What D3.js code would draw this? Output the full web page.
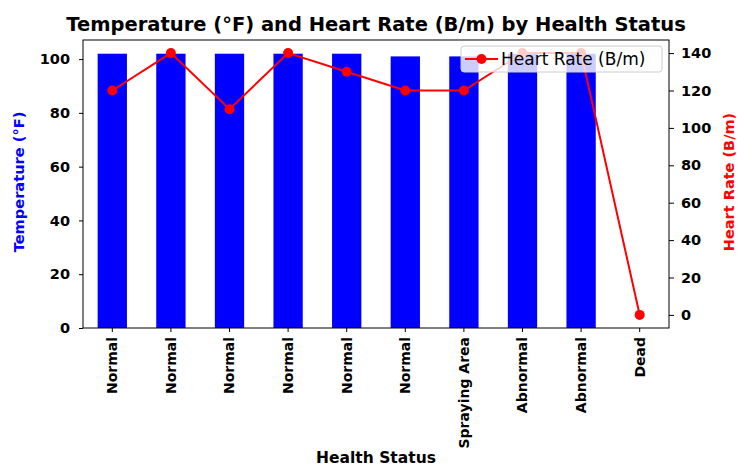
<!DOCTYPE html>
<html>
<head>
<meta charset="utf-8">
<script src="https://cdn.jsdelivr.net/npm/d3@7"></script>
<style>
  body { margin: 0; background: #fff; }
  text { font-family: "DejaVu Sans", sans-serif; }
</style>
</head>
<body>
<div id="chart"></div>
<script>
const statuses = ["Normal", "Normal", "Normal", "Normal", "Normal", "Normal", "Spraying Area", "Abnormal", "Abnormal", "Dead"];
const temperatures = [102, 102, 102, 102, 102, 101, 101, 102, 102, 0];
const heartRates = [120, 140, 110, 140, 130, 120, 120, 140, 140, 0];
const tempTicks = [0, 20, 40, 60, 80, 100];
const hrTicks = [0, 20, 40, 60, 80, 100, 120, 140];

const width = 737;
const height = 466;
const margin = { top: 40, right: 68, bottom: 138, left: 83 };
const plotW = width - margin.left - margin.right;
const plotH = height - margin.top - margin.bottom;

const svg = d3
  .select("#chart")
  .append("svg")
  .attr("width", width)
  .attr("height", height);

const idx = statuses.map((d, i) => i);

const x = d3
  .scaleBand()
  .domain(idx)
  .range([margin.left, margin.left + plotW])
  .paddingInner(0.5)
  .paddingOuter(0.25);

const yTemp = d3
  .scaleLinear()
  .domain([0, d3.max(temperatures) * 1.05])
  .range([margin.top + plotH, margin.top]);

const hrMax = d3.max(heartRates);
const yHr = d3
  .scaleLinear()
  .domain([-hrMax * 0.05, hrMax * 1.05])
  .range([margin.top + plotH, margin.top]);

// bars
svg
  .selectAll("rect.bar")
  .data(temperatures)
  .enter()
  .append("rect")
  .attr("class", "bar")
  .attr("x", (d, i) => x(i))
  .attr("width", x.bandwidth())
  .attr("y", (d) => yTemp(d))
  .attr("height", (d) => yTemp(0) - yTemp(d))
  .attr("fill", "#0000ff");

// heart rate line
const cx = (i) => x(i) + x.bandwidth() / 2;
const line = d3
  .line()
  .x((d, i) => cx(i))
  .y((d) => yHr(d));

svg
  .append("path")
  .datum(heartRates)
  .attr("d", line)
  .attr("fill", "none")
  .attr("stroke", "#ff0000")
  .attr("stroke-width", 2);

svg
  .selectAll("circle.pt")
  .data(heartRates)
  .enter()
  .append("circle")
  .attr("class", "pt")
  .attr("cx", (d, i) => cx(i))
  .attr("cy", (d) => yHr(d))
  .attr("r", 5)
  .attr("fill", "#ff0000");

// axes
const styleAxis = (size) => (g) => {
  g.select(".domain").remove();
  g.selectAll(".tick line").attr("stroke", "#000").attr("stroke-width", 1);
  g.selectAll(".tick text")
    .attr("fill", "#000")
    .style("font-size", size)
    .style("font-weight", "bold")
    .style("font-family", "DejaVu Sans");
};

svg
  .append("g")
  .attr("transform", `translate(${margin.left},0)`)
  .call(d3.axisLeft(yTemp).tickValues(tempTicks).tickSize(4).tickPadding(9))
  .call(styleAxis("14.5px"));

svg
  .append("g")
  .attr("transform", `translate(${margin.left + plotW},0)`)
  .call(d3.axisRight(yHr).tickValues(hrTicks).tickSize(5).tickPadding(7))
  .call(styleAxis("14.5px"));

const xAxis = svg
  .append("g")
  .attr("transform", `translate(0,${margin.top + plotH})`)
  .call(d3.axisBottom(x).tickFormat((i) => statuses[i]).tickSize(4).tickPadding(4))
  .call(styleAxis("14px"));

xAxis
  .selectAll(".tick text")
  .attr("transform", "rotate(-90)")
  .attr("text-anchor", "end")
  .attr("x", -9)
  .attr("y", 0)
  .attr("dy", "0.35em");

// frame
svg
  .append("rect")
  .attr("x", margin.left)
  .attr("y", margin.top)
  .attr("width", plotW)
  .attr("height", plotH)
  .attr("fill", "none")
  .attr("stroke", "#000")
  .attr("stroke-width", 1);

// legend
const lg = svg.append("g").attr("transform", "translate(461,46)");
lg.append("rect")
  .attr("width", 201)
  .attr("height", 26)
  .attr("rx", 3)
  .attr("fill", "rgba(255,255,255,0.8)")
  .attr("stroke", "#cccccc");
lg.append("line")
  .attr("x1", 4)
  .attr("x2", 37)
  .attr("y1", 13)
  .attr("y2", 13)
  .attr("stroke", "#ff0000")
  .attr("stroke-width", 2);
lg.append("circle").attr("cx", 20.5).attr("cy", 13).attr("r", 5).attr("fill", "#ff0000");
lg.append("text")
  .attr("x", 40)
  .attr("y", 13)
  .attr("dy", "0.35em")
  .style("font-size", "17px")
  .text("Heart Rate (B/m)");

// titles
svg
  .append("text")
  .attr("x", margin.left + plotW / 2)
  .attr("y", 31)
  .attr("text-anchor", "middle")
  .style("font-size", "19.5px")
  .style("font-weight", "bold")
  .text("Temperature (°F) and Heart Rate (B/m) by Health Status");

svg
  .append("text")
  .attr("transform", `translate(19,${margin.top + plotH / 2 - 2}) rotate(-90)`)
  .attr("text-anchor", "middle")
  .attr("dy", "0.35em")
  .attr("fill", "#0000ff")
  .style("font-size", "14.6px")
  .style("font-weight", "bold")
  .text("Temperature (°F)");

svg
  .append("text")
  .attr("transform", `translate(729,${margin.top + plotH / 2 - 2}) rotate(-90)`)
  .attr("text-anchor", "middle")
  .attr("dy", "0.35em")
  .attr("fill", "#ff0000")
  .style("font-size", "14.5px")
  .style("font-weight", "bold")
  .text("Heart Rate (B/m)");

svg
  .append("text")
  .attr("x", margin.left + plotW / 2)
  .attr("y", 463)
  .attr("text-anchor", "middle")
  .style("font-size", "15.5px")
  .style("font-weight", "bold")
  .text("Health Status");
</script>
</body>
</html>
